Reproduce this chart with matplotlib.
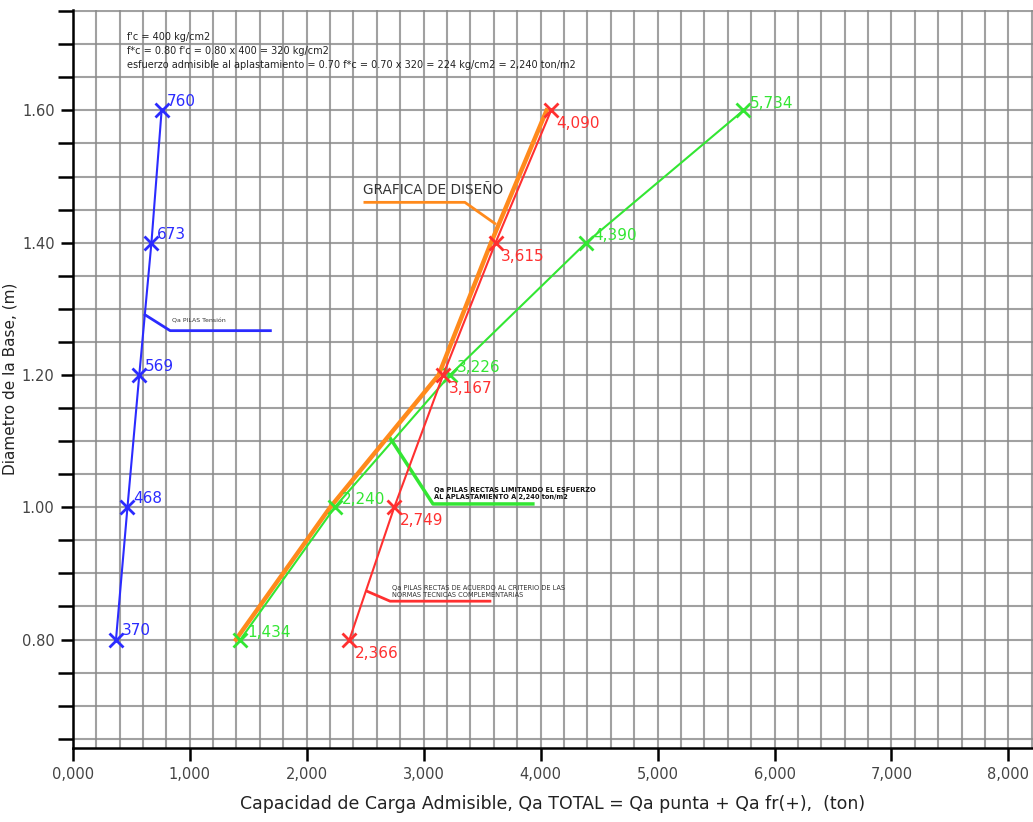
import numpy as np
import matplotlib
matplotlib.use("Agg")
import matplotlib.pyplot as plt
import matplotlib.transforms as mtransforms
from matplotlib.ticker import MultipleLocator, FuncFormatter

# diametro de la base (m)
diametros = [0.80, 1.00, 1.20, 1.40, 1.60]

# capacidad de carga admisible (ton)
qa_tension = [370, 468, 569, 673, 760]
qa_limitando = [1434, 2240, 3226, 4390, 5734]
qa_normas = [2366, 2749, 3167, 3615, 4090]
qa_diseno = np.minimum(qa_limitando, qa_normas)

azul = "#2b2bff"
verde = "#33e633"
rojo = "#ff3030"
naranja = "#ff8a1c"

fig = plt.figure(figsize=(10.33, 8.22), dpi=100)
ax = fig.add_axes([0.0704, 0.090, 0.9296, 0.898])

ax.set_xlim(0, 8210)
ax.set_ylim(0.636, 1.752)

ax.xaxis.set_major_locator(MultipleLocator(1000))
ax.xaxis.set_minor_locator(MultipleLocator(200))
ax.yaxis.set_major_locator(MultipleLocator(0.2))
ax.yaxis.set_minor_locator(MultipleLocator(0.05))
ax.xaxis.set_major_formatter(FuncFormatter(lambda v, p: f"{int(v)//1000},000"))
ax.yaxis.set_major_formatter(FuncFormatter(lambda v, p: f"{v:.2f}"))
ax.grid(True, which="both", color="#8a8a8a", lw=1.5, alpha=0.8)
ax.set_axisbelow(True)
for s in ["top", "right"]:
    ax.spines[s].set_visible(False)
ax.spines["left"].set_linewidth(1.8)
ax.spines["bottom"].set_linewidth(1.8)
ax.tick_params(which="major", length=9, width=1.8, labelsize=10.5, labelcolor="#444444", pad=4)
ax.tick_params(axis="x", which="minor", length=0)
ax.tick_params(axis="y", which="minor", length=11, width=1.8)
ax.tick_params(axis="x", which="major", pad=5)

ax.set_xlabel("Capacidad de Carga Admisible, Qa TOTAL = Qa punta + Qa fr(+),  (ton)",
              fontsize=12.5, color="#222222", labelpad=9)
ax.set_ylabel("Diametro de la Base, (m)", fontsize=11, color="#222222")
ax.yaxis.set_label_coords(-0.058, 0.5)

# grafica de diseño, corrida unos pixeles a la izquierda
desplazada = ax.transData + mtransforms.ScaledTranslation(-4.5 / 100, 0, fig.dpi_scale_trans)
ax.plot(qa_diseno, diametros, color=naranja, lw=3.2, transform=desplazada, zorder=3)

series = [(qa_tension, azul, (4, 3)), (qa_limitando, verde, (5, 2)), (qa_normas, rojo, (4, -13))]
for valores, color, off in series:
    ax.plot(valores, diametros, color=color, lw=1.5, marker="x", ms=10, mew=2, zorder=4)
    for v, d in zip(valores, diametros):
        ax.annotate(f"{v // 1000},{v % 1000:03d}" if v >= 1000 else f"{v}", (v, d),
                    xytext=off, textcoords="offset points", color=color, fontsize=11, zorder=5)

# lineas de referencia
ax.plot([618, 833, 1690], [1.291, 1.267, 1.267], color=azul, lw=2)
ax.text(850, 1.28, "Qa PILAS Tensión", fontsize=4.5, color="#333333")

ax.plot([2498, 3353, 3609], [1.461, 1.461, 1.429], color=naranja, lw=2)
ax.text(2480, 1.474, "GRAFICA DE DISEÑO", fontsize=9.8, color="#333333")

ax.plot([2712, 3080, 3934], [1.105, 1.005, 1.005], color=verde, lw=2.5)
ax.text(3090, 1.012, "Qa PILAS RECTAS LIMITANDO EL ESFUERZO\nAL APLASTAMIENTO A 2,240 ton/m2",
        fontsize=4.8, fontweight="bold", color="#111111", linespacing=1.3)

ax.plot([2517, 2713, 3567], [0.873, 0.858, 0.858], color=rojo, lw=2)
ax.text(2730, 0.864, "Qa PILAS RECTAS DE ACUERDO AL CRITERIO DE LAS\nNORMAS TECNICAS COMPLEMENTARIAS",
        fontsize=4.8, color="#333333", linespacing=1.3)

ax.text(465, 1.718,
        "f'c = 400 kg/cm2\n"
        "f*c = 0.80 f'c = 0.80 x 400 = 320 kg/cm2\n"
        "esfuerzo admisible al aplastamiento = 0.70 f*c = 0.70 x 320 = 224 kg/cm2 = 2,240 ton/m2",
        fontsize=7, color="#222222", va="top", linespacing=1.45)

fig.savefig("out.png", dpi=100)
